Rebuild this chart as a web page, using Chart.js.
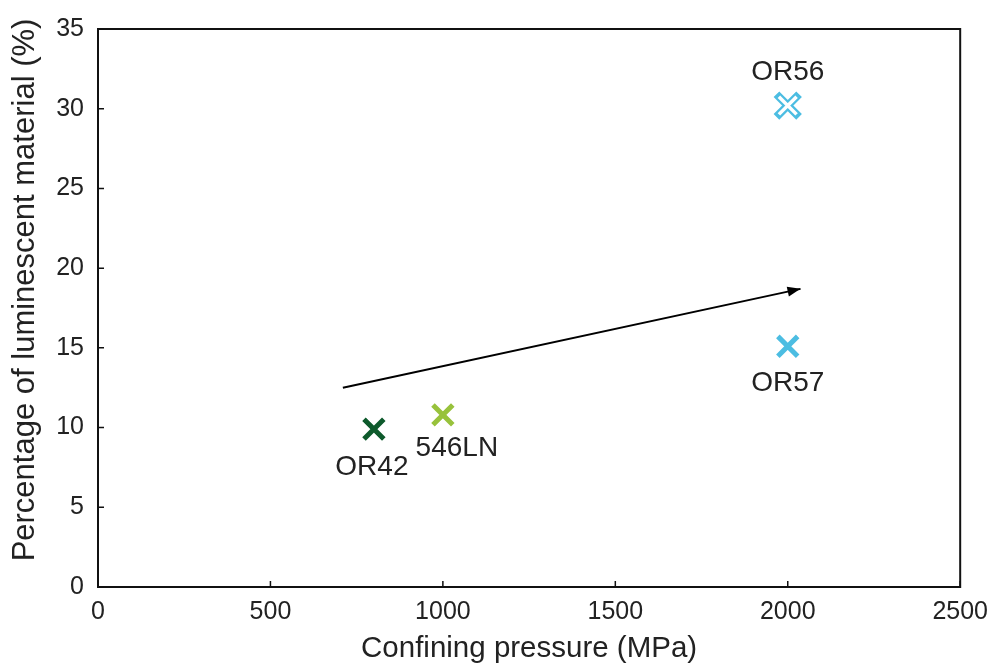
<!DOCTYPE html>
<html>
<head>
<meta charset="utf-8">
<script src="https://cdn.jsdelivr.net/npm/chart.js@4"></script>
<style>
  html, body { margin: 0; padding: 0; background: #fff; }
  #wrap { width: 998px; height: 667px; }
</style>
</head>
<body>
<div id="wrap"><canvas id="chart" width="998" height="667"></canvas></div>
<script>
// data
const samples = ['OR42', '546LN', 'OR56', 'OR57'];
const pressure = [800, 1000, 2000, 2000];          // MPa
const luminescent = [9.9, 10.8, 30.2, 15.1];       // %
const sampleColors = ['#0e5a2c', '#98c23c', '#4cbde2', '#4cbde2'];
const hollow = [false, false, true, false];
const arrowX = [710, 2037];
const arrowY = [12.5, 18.7];
const xTicks = [0, 500, 1000, 1500, 2000, 2500];
const yTicks = [0, 5, 10, 15, 20, 25, 30, 35];
const yTitle = 'Percentage of luminescent material (%)';

// label offsets from the marker, in px
const labelOffsets = [[-2, 38], [14, 33], [0, -33], [0, 37]];

const FONT = '"Liberation Sans", Arial, sans-serif';

const points = samples.map((s, i) => ({ x: pressure[i], y: luminescent[i] }));

const datasets = [
  {
    type: 'scatter',
    order: 2,
    data: points,
    pointStyle: 'crossRot',
    pointRadius: samples.map((s, i) => hollow[i] ? 16 : 14),
    pointBorderWidth: samples.map((s, i) => hollow[i] ? 8 : 5),
    pointBorderColor: sampleColors,
    pointBackgroundColor: sampleColors
  },
  {
    // white core turns the marker into an outlined cross
    type: 'scatter',
    order: 1,
    data: points.filter((p, i) => hollow[i]),
    pointStyle: 'crossRot',
    pointRadius: 12.5,
    pointBorderWidth: 3.5,
    pointBorderColor: '#fff'
  },
  {
    type: 'line',
    order: 3,
    data: arrowX.map((x, i) => ({ x: x, y: arrowY[i] })),
    borderColor: '#000',
    borderWidth: 2,
    pointRadius: 0
  }
];

const boxAndTicks = {
  id: 'boxAndTicks',
  afterDraw(chart) {
    const { ctx, chartArea: a, scales } = chart;
    ctx.save();
    ctx.strokeStyle = '#111';
    ctx.lineWidth = 2;
    ctx.strokeRect(a.left, a.top, a.right - a.left, a.bottom - a.top);
    ctx.lineWidth = 1.5;
    ctx.beginPath();
    xTicks.forEach(v => {
      const px = scales.x.getPixelForValue(v);
      ctx.moveTo(px, a.bottom);
      ctx.lineTo(px, a.bottom - 6);
    });
    yTicks.forEach(v => {
      const py = scales.y.getPixelForValue(v);
      ctx.moveTo(a.left, py);
      ctx.lineTo(a.left + 6, py);
    });
    ctx.stroke();

    // arrow head at the end of the trend line
    const m = chart.getDatasetMeta(2).data;
    const p0 = m[0], p1 = m[m.length - 1];
    const ang = Math.atan2(p1.y - p0.y, p1.x - p0.x);
    const len = 13, half = 5;
    ctx.fillStyle = '#000';
    ctx.beginPath();
    ctx.moveTo(p1.x, p1.y);
    ctx.lineTo(p1.x - len * Math.cos(ang) + half * Math.sin(ang), p1.y - len * Math.sin(ang) - half * Math.cos(ang));
    ctx.lineTo(p1.x - len * Math.cos(ang) - half * Math.sin(ang), p1.y - len * Math.sin(ang) + half * Math.cos(ang));
    ctx.closePath();
    ctx.fill();

    // sample labels
    const pts = chart.getDatasetMeta(0).data;
    ctx.font = '28px ' + FONT;
    ctx.fillStyle = '#222';
    ctx.textAlign = 'center';
    ctx.textBaseline = 'middle';
    samples.forEach((s, i) => {
      ctx.fillText(s, pts[i].x + labelOffsets[i][0], pts[i].y + labelOffsets[i][1]);
    });

    // y axis title, sits a little above the plot centre in the original
    ctx.translate(25, 290);
    ctx.rotate(-Math.PI / 2);
    ctx.font = '31px ' + FONT;
    ctx.fillText(yTitle, 0, 0);
    ctx.restore();
  }
};

new Chart(document.getElementById('chart'), {
  data: { datasets: datasets },
  options: {
    responsive: false,
    animation: false,
    layout: { padding: { left: 0, right: 34, top: 26, bottom: 0 } },
    plugins: { legend: { display: false }, tooltip: { enabled: false } },
    scales: {
      x: {
        type: 'linear',
        min: 0, max: 2500,
        afterBuildTicks: s => { s.ticks = xTicks.map(v => ({ value: v })); },
        afterFit: s => { s.height = 80; },
        grid: { display: false, drawTicks: false },
        border: { display: false },
        ticks: { color: '#222', font: { family: FONT, size: 25 }, padding: 10, maxRotation: 0, callback: v => String(v) },
        title: { display: true, text: 'Confining pressure (MPa)', color: '#222', font: { family: FONT, size: 29.5 }, padding: { top: 0, bottom: 0 } }
      },
      y: {
        type: 'linear',
        min: 0, max: 35,
        afterBuildTicks: s => { s.ticks = yTicks.map(v => ({ value: v })); },
        afterFit: s => { s.width = 98; },
        grid: { display: false, drawTicks: false },
        border: { display: false },
        ticks: { color: '#222', font: { family: FONT, size: 25 }, padding: 14, callback: v => String(v) },
        title: { display: false }
      }
    }
  },
  plugins: [boxAndTicks]
});
</script>
</body>
</html>
